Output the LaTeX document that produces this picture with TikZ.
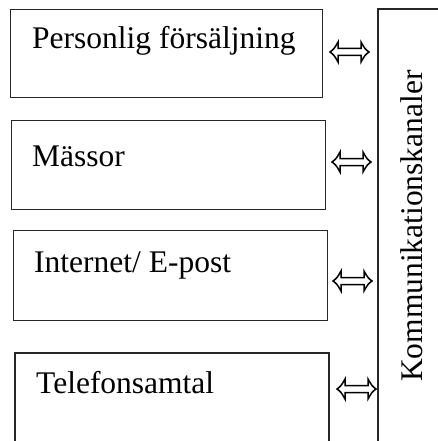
\documentclass[tikz,border=0pt]{standalone}
\usepackage{fontspec}
\setmainfont{Liberation Serif}
\begin{document}
\begin{tikzpicture}[x=1pt,y=-1pt,
  box/.style={draw=black!85, line width=1.3pt},
  label/.style={anchor=base west, inner sep=0pt, font=\fontsize{31.5}{36}\selectfont},
  dblarrow/.style={draw=black, line width=1.5pt, fill=white, line join=miter}]
\useasboundingbox (0,0) rectangle (438,441);

% channel boxes
\node[box, minimum width=312pt, minimum height=88pt, anchor=north west, inner sep=0pt] (b1) at (10,9) {};
\node[box, minimum width=314pt, minimum height=89pt, anchor=north west, inner sep=0pt] (b2) at (11,120) {};
\node[box, minimum width=314pt, minimum height=90pt, anchor=north west, inner sep=0pt] (b3) at (13,230) {};
\draw[box] (15,445) -- (15,353) -- (329,353) -- (329,445);

\node[label] (t1) at (32,49) {Personlig försäljning};
\node[label] (t2) at (32,166) {Mässor};
\node[label] (t3) at (34,272) {Internet/ E-post};
\node[label] (t4) at (36,393) {Telefonsamtal};

% communication channel column
\draw[box, line width=1.6pt] (378,445) -- (378,9) -- (445,9);
\node[label, rotate=90] (k) at (422,382) {Kommunikationskanaler};

% hollow double arrows
\newcommand{\hollowarrow}[2]{%
  \draw[dblarrow] (#1,#2)
    .. controls (#1+4,#2-3) .. (#1+8,#2-10) -- (#1+8,#2-3.5)
    -- (#1+31,#2-3.5) -- (#1+31,#2-10)
    .. controls (#1+35,#2-3) .. (#1+39,#2)
    .. controls (#1+35,#2+3) .. (#1+31,#2+10) -- (#1+31,#2+3.5)
    -- (#1+8,#2+3.5) -- (#1+8,#2+10)
    .. controls (#1+4,#2+3) .. cycle;}
\hollowarrow{330}{52}
\hollowarrow{332}{162}
\hollowarrow{333}{281}
\hollowarrow{337}{389}
\end{tikzpicture}
\end{document}
